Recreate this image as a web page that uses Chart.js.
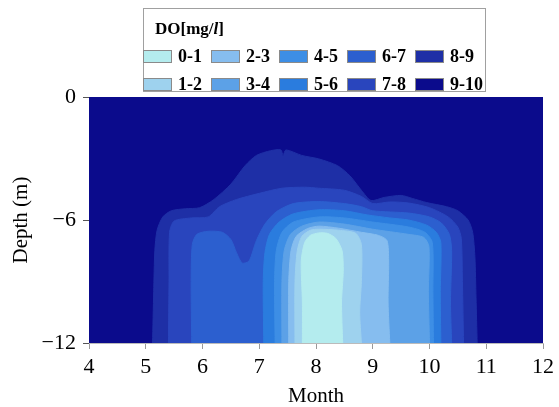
<!DOCTYPE html>
<html>
<head>
<meta charset="utf-8">
<script src="https://cdn.jsdelivr.net/npm/chart.js@4.4.1/dist/chart.umd.min.js"></script>
<style>
  body { margin: 0; background: #fff; }
  #wrap { position: relative; width: 559px; height: 407px; font-family: "Liberation Serif", "Times New Roman", serif; }
  #legend {
    position: absolute; left: 143px; top: 8px; width: 343px; height: 84px;
    border: 1px solid #a0a0a0; background: #fff; box-sizing: border-box;
  }
  #legend .ttl { position: absolute; left: 11px; top: 10px; font-weight: bold; font-size: 17px; }
  #legend .item { position: absolute; display: flex; align-items: center; font-weight: bold; font-size: 18px; }
  #legend .sw { width: 29px; height: 13px; border: 1px solid #8a8a8a; box-sizing: border-box; margin-right: 6px; }
</style>
</head>
<body>
<div id="wrap">
  <canvas id="myChart" width="559" height="407"></canvas>
  <div id="legend"><div class="ttl">DO[mg/<i>l</i>]</div></div>
</div>
<script>
// tick labels
const monthTicks = [4, 5, 6, 7, 8, 9, 10, 11, 12];
const depthTicks = [0, -6, -12];

// DO classes, lowest first
const bandLabels = ['0-1', '1-2', '2-3', '3-4', '4-5', '5-6', '6-7', '7-8', '8-9', '9-10'];
const bandColors = ['#b4ecee', '#9ed2ee', '#86bdef', '#5ca1e7', '#3d8ee5', '#2a7cde', '#2c5fcf', '#2945bd', '#1e2fa6', '#0b0b8c'];

// contour outlines [month, depth] : region where DO is below the class top
const below1 = [[7.76,-12],[7.76,-10],[7.74,-8],[7.8,-7.1],[7.9,-6.75],[8.05,-6.63],[8.2,-6.65],[8.35,-6.9],[8.46,-7.5],[8.48,-8.5],[8.45,-10],[8.47,-12]];
const below2 = [[7.63,-12],[7.63,-9],[7.67,-7.5],[7.75,-6.8],[7.9,-6.5],[8.05,-6.45],[8.4,-6.5],[8.7,-6.65],[8.8,-7.2],[8.8,-9],[8.77,-10.5],[8.8,-12]];
const below3 = [[7.52,-12],[7.52,-9],[7.56,-7.5],[7.65,-6.8],[7.85,-6.42],[8.05,-6.3],[8.4,-6.4],[8.8,-6.6],[9.1,-6.75],[9.25,-7.0],[9.28,-8],[9.27,-10],[9.3,-12]];
const below4 = [[7.4,-12],[7.4,-9],[7.44,-7.5],[7.55,-6.7],[7.75,-6.3],[8.05,-6.1],[8.5,-6.2],[9.0,-6.45],[9.63,-6.7],[9.9,-6.85],[9.99,-7.3],[9.98,-9.5],[10.0,-12]];
const below5 = [[7.28,-12],[7.27,-9],[7.3,-7.5],[7.4,-6.6],[7.6,-6.1],[8.05,-5.85],[8.5,-5.9],[9.0,-6.1],[9.63,-6.34],[9.92,-6.6],[10.05,-7.1],[10.06,-9.5],[10.07,-12]];
const below6 = [[7.08,-12],[7.07,-9],[7.1,-7.6],[7.18,-6.7],[7.35,-6.1],[7.6,-5.7],[8.05,-5.5],[8.5,-5.55],[8.9,-5.75],[9.3,-5.9],[9.63,-6.0],[9.95,-6.25],[10.12,-6.6],[10.2,-7.1],[10.19,-9.5],[10.2,-12]];
const below7 = [[5.81,-12],[5.8,-9],[5.82,-7.2],[5.9,-6.7],[6.1,-6.55],[6.35,-6.6],[6.5,-6.95],[6.6,-7.6],[6.7,-8.1],[6.82,-8.0],[6.95,-7.0],[7.1,-6.2],[7.3,-5.6],[7.6,-5.2],[8.05,-5.1],[8.5,-5.2],[8.8,-5.35],[9.0,-5.55],[9.63,-5.66],[10.0,-5.85],[10.21,-6.15],[10.35,-6.7],[10.39,-7.5],[10.37,-10],[10.39,-12]];
const below8 = [[5.4,-12],[5.41,-9],[5.42,-6.6],[5.5,-6.05],[5.8,-5.9],[6.1,-5.85],[6.3,-5.35],[6.6,-5.0],[7.0,-4.7],[7.4,-4.45],[7.8,-4.4],[8.05,-4.45],[8.5,-4.55],[8.8,-4.85],[9.0,-5.2],[9.3,-5.12],[9.63,-5.17],[10.0,-5.4],[10.33,-5.85],[10.5,-6.35],[10.56,-6.9],[10.58,-9],[10.6,-12]];
const below9 = [[5.12,-12],[5.14,-9.5],[5.16,-7.5],[5.2,-6.5],[5.3,-5.85],[5.45,-5.55],[5.7,-5.45],[5.95,-5.4],[6.2,-5.0],[6.5,-4.25],[6.75,-3.35],[6.95,-2.85],[7.2,-2.62],[7.38,-2.58],[7.42,-2.85],[7.47,-2.58],[7.75,-2.85],[8.05,-3.02],[8.38,-3.35],[8.6,-3.85],[8.8,-4.55],[8.97,-5.05],[9.2,-4.9],[9.5,-4.8],[9.7,-4.95],[9.95,-5.15],[10.3,-5.35],[10.5,-5.55],[10.68,-6.0],[10.76,-6.6],[10.8,-7.8],[10.82,-9.8],[10.84,-12]];
const below10 = [[4,-12],[4,0],[12,0],[12,-12]];

const contours = [below1, below2, below3, below4, below5, below6, below7, below8, below9, below10];

const serif = '"Liberation Serif", "Times New Roman", serif';

// legend (two rows, filled column by column)
const legend = document.getElementById('legend');
bandLabels.forEach((lab, i) => {
    const col = Math.floor(i / 2), row = i % 2;
    const el = document.createElement('div');
    el.className = 'item';
    el.style.left = (-1 + col * 68) + 'px';
    el.style.top = (37 + row * 28) + 'px';
    el.innerHTML = '<span class="sw" style="background:' + bandColors[i] + '"></span>' + lab;
    legend.appendChild(el);
});

// dataset 0 is drawn on top, so the inner contour goes first
const datasets = contours.map((pts, i) => ({
    label: bandLabels[i],
    data: pts.map(p => ({ x: p[0], y: p[1] })),
    backgroundColor: bandColors[i],
    borderColor: bandColors[i],
    borderWidth: 1,
    fill: 'shape',
    pointRadius: 0,
    tension: i === 9 ? 0 : 0.25
}));

const ctx = document.getElementById('myChart');
new Chart(ctx, {
    type: 'line',
    data: { datasets: datasets },
    options: {
        responsive: false,
        animation: false,
        events: [],
        layout: { padding: { top: 97, right: 14, left: 0, bottom: 0 } },
        plugins: { legend: { display: false }, tooltip: { enabled: false } },
        scales: {
            x: {
                type: 'linear',
                min: 4,
                max: 12,
                afterBuildTicks: s => { s.ticks = monthTicks.map(v => ({ value: v })); },
                afterFit: s => { s.height = 64; },
                ticks: { color: '#000', font: { family: serif, size: 22 }, padding: 5, maxRotation: 0 },
                grid: { drawOnChartArea: false, tickLength: 6, color: '#999' },
                border: { color: '#bbb' },
                title: { display: true, text: 'Month', color: '#000', font: { family: serif, size: 21, lineHeight: 1 }, padding: { top: 0, bottom: 0 } }
            },
            y: {
                min: -12,
                max: 0,
                afterBuildTicks: s => { s.ticks = depthTicks.map(v => ({ value: v })); },
                afterFit: s => { s.width = 89; },
                ticks: {
                    color: '#000',
                    font: { family: serif, size: 22 },
                    padding: 7,
                    callback: v => (v < 0 ? '\u2212' + Math.abs(v) : String(v))
                },
                grid: { drawOnChartArea: false, tickLength: 6, color: '#555' },
                border: { color: '#bbb' },
                title: { display: true, text: 'Depth (m)', color: '#000', font: { family: serif, size: 21, lineHeight: 1 }, padding: { top: 11, bottom: 0 } }
            }
        }
    }
});
</script>
</body>
</html>
